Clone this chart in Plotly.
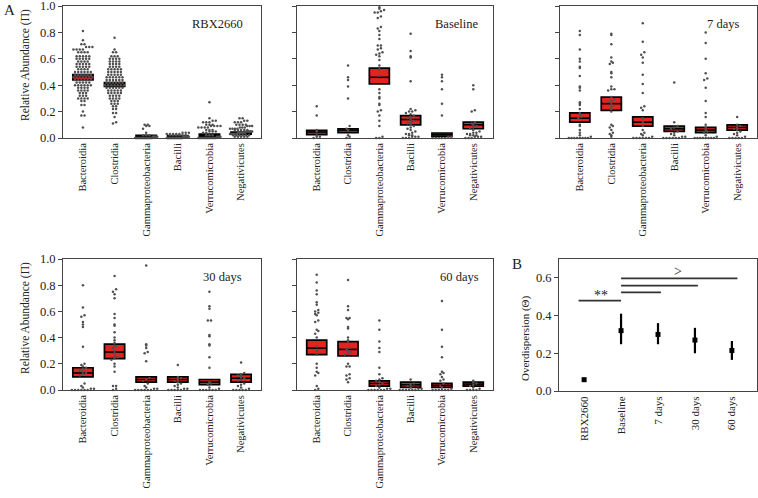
import plotly.graph_objects as go

FONT = "Liberation Serif"

categories = ["Bacteroidia", "Clostridia", "Gammaproteobacteria", "Bacilli", "Verrucomicrobia", "Negativicutes"]
panel_names = ["RBX2660", "Baseline", "7 days", "30 days", "60 days"]

# ---------- RBX2660 ----------
rbx_bacteroidia = [0.81, 0.74, 0.71, 0.71, 0.69, 0.69, 0.69, 0.67, 0.67, 0.67, 0.67, 0.65, 0.65, 0.65, 0.65,
                   0.62, 0.62, 0.62, 0.62, 0.62, 0.60, 0.60, 0.60, 0.60, 0.60, 0.58, 0.58, 0.58, 0.58,
                   0.56, 0.56, 0.56, 0.56, 0.56, 0.54, 0.54, 0.54, 0.54, 0.54, 0.52, 0.52, 0.52, 0.52,
                   0.50, 0.50, 0.50, 0.50, 0.50, 0.50, 0.48, 0.48, 0.48, 0.48, 0.48, 0.48,
                   0.46, 0.46, 0.46, 0.46, 0.46, 0.46, 0.46, 0.44, 0.44, 0.44, 0.44, 0.44, 0.44,
                   0.42, 0.42, 0.42, 0.42, 0.42, 0.40, 0.40, 0.40, 0.40, 0.40, 0.40, 0.38, 0.38, 0.38, 0.38,
                   0.36, 0.36, 0.36, 0.36, 0.34, 0.34, 0.34, 0.32, 0.32, 0.32, 0.30, 0.30, 0.30, 0.30,
                   0.28, 0.28, 0.25, 0.25, 0.20, 0.17, 0.17, 0.08]
rbx_clostridia = [0.76, 0.67, 0.65, 0.65, 0.62, 0.62, 0.62, 0.60, 0.60, 0.60, 0.60, 0.58, 0.58, 0.58, 0.58,
                  0.56, 0.56, 0.56, 0.56, 0.54, 0.54, 0.54, 0.54, 0.52, 0.52, 0.52, 0.52, 0.52,
                  0.50, 0.50, 0.50, 0.50, 0.50, 0.48, 0.48, 0.48, 0.48, 0.48, 0.46, 0.46, 0.46, 0.46, 0.46, 0.46,
                  0.44, 0.44, 0.44, 0.44, 0.44, 0.44, 0.42, 0.42, 0.42, 0.42, 0.42, 0.42,
                  0.40, 0.40, 0.40, 0.40, 0.40, 0.40, 0.40, 0.38, 0.38, 0.38, 0.38, 0.38, 0.38,
                  0.36, 0.36, 0.36, 0.36, 0.36, 0.34, 0.34, 0.34, 0.34, 0.34, 0.32, 0.32, 0.32, 0.32,
                  0.30, 0.30, 0.30, 0.30, 0.28, 0.28, 0.28, 0.26, 0.26, 0.26, 0.24, 0.24, 0.22, 0.22,
                  0.19, 0.19, 0.16, 0.12, 0.11]
rbx_gamma = [0.10, 0.10, 0.09, 0.09, 0.07, 0.04, 0.02, 0.02, 0.02, 0.01, 0.01, 0.01, 0.01, 0.01, 0.01,
             0.0, 0.0, 0.0, 0.0, 0.0, 0.0, 0.0, 0.0, 0.0, 0.0, 0.0, 0.0, 0.0, 0.0, 0.0, 0.0, 0.0, 0.0, 0.0, 0.0]
rbx_bacilli = [0.04, 0.04, 0.04, 0.03, 0.03, 0.03, 0.03, 0.03, 0.02, 0.02, 0.02, 0.02, 0.02, 0.02,
               0.01, 0.01, 0.01, 0.01, 0.01, 0.01, 0.01, 0.01,
               0.0, 0.0, 0.0, 0.0, 0.0, 0.0, 0.0, 0.0, 0.0, 0.0, 0.0, 0.0, 0.0, 0.0, 0.0, 0.0, 0.0, 0.0, 0.0, 0.0]
rbx_verruco = [0.27, 0.15, 0.13, 0.13, 0.12, 0.12, 0.12, 0.10, 0.10, 0.10, 0.09, 0.09, 0.09, 0.09,
               0.08, 0.08, 0.08, 0.08, 0.06, 0.06, 0.06, 0.05, 0.05, 0.05, 0.04, 0.04, 0.02, 0.02, 0.02,
               0.01, 0.01, 0.01, 0.01, 0.0, 0.0, 0.0, 0.0, 0.0, 0.0, 0.0, 0.0, 0.0, 0.0, 0.0, 0.0, 0.0, 0.0, 0.0, 0.0]
rbx_negativ = [0.15, 0.15, 0.13, 0.13, 0.12, 0.12, 0.12, 0.10, 0.10, 0.10, 0.10, 0.09, 0.09, 0.09,
               0.08, 0.08, 0.08, 0.07, 0.07, 0.07, 0.07, 0.06, 0.06, 0.06, 0.06, 0.06,
               0.05, 0.05, 0.05, 0.05, 0.05, 0.05, 0.05, 0.04, 0.04, 0.04, 0.04, 0.04, 0.04, 0.04, 0.04,
               0.03, 0.03, 0.03, 0.03, 0.03, 0.03, 0.03, 0.03, 0.02, 0.02, 0.02, 0.02, 0.02, 0.02,
               0.01, 0.01, 0.01, 0.01, 0.01]
rbx_box_low = [0.44, 0.39, 0.005, 0.006, 0.010, 0.030]
rbx_box_high = [0.48, 0.42, 0.020, 0.018, 0.030, 0.045]
rbx_box_mean = [0.46, 0.405, 0.012, 0.012, 0.020, 0.037]

# ---------- Baseline ----------
base_bacteroidia = [0.24, 0.17, 0.06, 0.05, 0.02, 0.01, 0.01, 0.0]
base_clostridia = [0.55, 0.46, 0.44, 0.39, 0.30, 0.09, 0.07, 0.06, 0.02, 0.01, 0.0]
base_gamma = [0.99, 0.98, 0.97, 0.96, 0.95, 0.95, 0.92, 0.91, 0.84, 0.83, 0.81, 0.78, 0.75, 0.70, 0.70,
              0.68, 0.67, 0.65, 0.64, 0.63, 0.62, 0.59, 0.55, 0.52, 0.47, 0.37, 0.34, 0.31, 0.30,
              0.26, 0.25, 0.21, 0.20, 0.17, 0.13, 0.09, 0.01, 0.0, 0.0]
base_bacilli = [0.79, 0.66, 0.62, 0.61, 0.43, 0.22, 0.21, 0.20, 0.20, 0.19, 0.18, 0.17, 0.16, 0.15,
                0.14, 0.13, 0.12, 0.11, 0.10, 0.09, 0.08, 0.07, 0.06, 0.05, 0.04, 0.03, 0.03,
                0.02, 0.02, 0.01, 0.01, 0.01, 0.0, 0.0, 0.0]
base_verruco = [0.48, 0.46, 0.43, 0.37, 0.26, 0.17, 0.01, 0.01, 0.0, 0.0, 0.0, 0.0, 0.0]
base_negativ = [0.40, 0.37, 0.21, 0.20, 0.12, 0.11, 0.10, 0.09, 0.08, 0.07, 0.06, 0.05, 0.04, 0.04,
                0.03, 0.03, 0.02, 0.02, 0.02, 0.01, 0.01, 0.01, 0.0, 0.0, 0.0]
base_box_low = [0.025, 0.040, 0.41, 0.10, 0.012, 0.07]
base_box_high = [0.058, 0.070, 0.53, 0.17, 0.038, 0.12]
base_box_mean = [0.045, 0.060, 0.46, 0.14, 0.025, 0.10]

# ---------- 7 days ----------
d7_bacteroidia = [0.81, 0.78, 0.67, 0.60, 0.58, 0.54, 0.53, 0.47, 0.39, 0.38, 0.36, 0.27, 0.26, 0.25,
                  0.22, 0.19, 0.18, 0.16, 0.15, 0.10, 0.09, 0.06, 0.04, 0.02, 0.01,
                  0.0, 0.0, 0.0, 0.0, 0.0, 0.0, 0.0, 0.0]
d7_clostridia = [0.79, 0.78, 0.71, 0.61, 0.58, 0.57, 0.56, 0.50, 0.49, 0.46, 0.39, 0.37, 0.37, 0.36,
                 0.31, 0.29, 0.28, 0.27, 0.26, 0.24, 0.22, 0.20, 0.10, 0.09, 0.08, 0.06, 0.04, 0.03, 0.02, 0.01]
d7_gamma = [0.87, 0.73, 0.65, 0.63, 0.61, 0.57, 0.48, 0.41, 0.34, 0.24, 0.23, 0.21, 0.15, 0.12, 0.09,
            0.06, 0.04, 0.03, 0.02, 0.01, 0.0, 0.0, 0.0, 0.0, 0.0, 0.0]
d7_bacilli = [0.42, 0.12, 0.09, 0.08, 0.07, 0.05, 0.04, 0.03, 0.02, 0.01, 0.01,
              0.0, 0.0, 0.0, 0.0, 0.0, 0.0]
d7_verruco = [0.80, 0.72, 0.60, 0.49, 0.45, 0.44, 0.38, 0.28, 0.19, 0.16, 0.10, 0.08, 0.06, 0.05,
              0.04, 0.02, 0.01, 0.0, 0.0, 0.0, 0.0, 0.0, 0.0, 0.0, 0.0]
d7_negativ = [0.16, 0.10, 0.09, 0.08, 0.07, 0.06, 0.05, 0.04, 0.03, 0.02, 0.01,
              0.0, 0.0, 0.0, 0.0, 0.0]
d7_box_low = [0.12, 0.21, 0.09, 0.05, 0.04, 0.06]
d7_box_high = [0.19, 0.31, 0.16, 0.09, 0.08, 0.10]
d7_box_mean = [0.15, 0.26, 0.12, 0.07, 0.06, 0.08]

# ---------- 30 days ----------
d30_bacteroidia = [0.80, 0.63, 0.57, 0.56, 0.52, 0.50, 0.48, 0.33, 0.20, 0.19, 0.18, 0.17, 0.16, 0.15,
                   0.14, 0.13, 0.12, 0.11, 0.05, 0.03, 0.02, 0.01, 0.01, 0.0, 0.0, 0.0, 0.0, 0.0, 0.0]
d30_clostridia = [0.87, 0.77, 0.75, 0.73, 0.70, 0.58, 0.55, 0.50, 0.49, 0.44, 0.40, 0.38, 0.36, 0.34,
                  0.33, 0.32, 0.30, 0.28, 0.26, 0.25, 0.24, 0.23, 0.20, 0.18, 0.14, 0.03, 0.03, 0.01, 0.0]
d30_gamma = [0.95, 0.35, 0.34, 0.32, 0.29, 0.28, 0.22, 0.09, 0.08, 0.07, 0.05, 0.03, 0.02, 0.01, 0.01,
             0.0, 0.0, 0.0, 0.0, 0.0, 0.0]
d30_bacilli = [0.19, 0.10, 0.09, 0.08, 0.07, 0.06, 0.05, 0.04, 0.03, 0.02, 0.01, 0.01,
               0.0, 0.0, 0.0, 0.0, 0.0]
d30_verruco = [0.75, 0.64, 0.62, 0.53, 0.53, 0.42, 0.41, 0.35, 0.34, 0.25, 0.17, 0.06, 0.05, 0.04,
               0.02, 0.01, 0.0, 0.0, 0.0, 0.0, 0.0, 0.0]
d30_negativ = [0.21, 0.13, 0.12, 0.11, 0.10, 0.09, 0.08, 0.07, 0.05, 0.04, 0.03, 0.02, 0.01,
               0.0, 0.0, 0.0, 0.0, 0.0]
d30_box_low = [0.10, 0.24, 0.06, 0.06, 0.04, 0.06]
d30_box_high = [0.17, 0.35, 0.10, 0.10, 0.08, 0.12]
d30_box_mean = [0.13, 0.29, 0.08, 0.08, 0.06, 0.09]

# ---------- 60 days ----------
d60_bacteroidia = [0.88, 0.82, 0.76, 0.73, 0.67, 0.65, 0.61, 0.60, 0.59, 0.58, 0.57, 0.53, 0.52, 0.46,
                   0.45, 0.43, 0.40, 0.33, 0.30, 0.27, 0.20, 0.17, 0.14, 0.13, 0.11, 0.03, 0.01, 0.0]
d60_clostridia = [0.84, 0.64, 0.61, 0.55, 0.55, 0.54, 0.48, 0.47, 0.40, 0.38, 0.37, 0.32, 0.31, 0.30,
                  0.29, 0.28, 0.27, 0.20, 0.18, 0.18, 0.12, 0.11, 0.09, 0.08, 0.06]
d60_gamma = [0.53, 0.46, 0.37, 0.32, 0.29, 0.17, 0.12, 0.09, 0.08, 0.07, 0.06, 0.05, 0.04, 0.03,
             0.02, 0.01, 0.01, 0.0, 0.0, 0.0, 0.0, 0.0, 0.0]
d60_bacilli = [0.08, 0.05, 0.04, 0.03, 0.02, 0.01, 0.01, 0.0, 0.0, 0.0, 0.0, 0.0, 0.0]
d60_verruco = [0.68, 0.46, 0.33, 0.25, 0.14, 0.13, 0.12, 0.10, 0.08, 0.07, 0.05, 0.03, 0.02, 0.01,
               0.0, 0.0, 0.0, 0.0, 0.0, 0.0]
d60_negativ = [0.07, 0.06, 0.05, 0.04, 0.03, 0.02, 0.01, 0.0, 0.0, 0.0, 0.0]
d60_box_low = [0.27, 0.26, 0.03, 0.02, 0.02, 0.03]
d60_box_high = [0.38, 0.37, 0.07, 0.06, 0.05, 0.06]
d60_box_mean = [0.32, 0.31, 0.05, 0.04, 0.035, 0.045]

# ---------- Panel B ----------
b_groups = ["RBX2660", "Baseline", "7 days", "30 days", "60 days"]
b_theta = [0.06, 0.32, 0.30, 0.27, 0.215]
b_upper = [0.066, 0.41, 0.36, 0.335, 0.265]
b_lower = [0.054, 0.248, 0.248, 0.20, 0.165]
sig_labels = ["**", ">"]

panels = [
    ([rbx_bacteroidia, rbx_clostridia, rbx_gamma, rbx_bacilli, rbx_verruco, rbx_negativ],
     rbx_box_low, rbx_box_high, rbx_box_mean),
    ([base_bacteroidia, base_clostridia, base_gamma, base_bacilli, base_verruco, base_negativ],
     base_box_low, base_box_high, base_box_mean),
    ([d7_bacteroidia, d7_clostridia, d7_gamma, d7_bacilli, d7_verruco, d7_negativ],
     d7_box_low, d7_box_high, d7_box_mean),
    ([d30_bacteroidia, d30_clostridia, d30_gamma, d30_bacilli, d30_verruco, d30_negativ],
     d30_box_low, d30_box_high, d30_box_mean),
    ([d60_bacteroidia, d60_clostridia, d60_gamma, d60_bacilli, d60_verruco, d60_negativ],
     d60_box_low, d60_box_high, d60_box_mean),
]

W, H = 758, 498


def px_x(a, b):
    return [a / W, b / W]


def px_y(top, bottom):
    return [1 - bottom / H, 1 - top / H]


domains = [
    (px_x(63, 261), px_y(6, 138)),
    (px_x(297, 493), px_y(6, 138)),
    (px_x(560, 757), px_y(6, 138)),
    (px_x(63, 261), px_y(259, 390)),
    (px_x(297, 493), px_y(259, 390)),
]
domainB = (px_x(559, 757), px_y(259, 391))


def swarm(vals, center, binsize=0.02, step=0.1, maxw=0.7):
    rows = {}
    for v in vals:
        rows.setdefault(int(round(v / binsize)), []).append(v)
    xs, ys = [], []
    for k in sorted(rows):
        vs = sorted(rows[k])
        n = len(vs)
        s = step if n <= 1 else min(step, maxw / (n - 1))
        for j, v in enumerate(vs):
            xs.append(center + (j - (n - 1) / 2) * s)
            ys.append(v)
    return xs, ys


fig = go.Figure()
RED = "#e2231f"
DOT = "#505050"
AXC = "#444444"
TXT = "#222222"

layout = dict(width=W, height=H, margin=dict(l=0, r=0, t=0, b=0, autoexpand=False),
              paper_bgcolor="white", plot_bgcolor="white", showlegend=False,
              font=dict(family=FONT, color=TXT), barmode="overlay")

for i, (pts, lo, hi, mn) in enumerate(panels):
    n = i + 1
    xa = "x" if n == 1 else f"x{n}"
    ya = "y" if n == 1 else f"y{n}"
    xs_all, ys_all = [], []
    for c, vals in enumerate(pts):
        xs, ys = swarm(vals, c)
        xs_all += xs
        ys_all += ys
    fig.add_trace(go.Bar(x=list(range(6)), y=[h - l for h, l in zip(hi, lo)], base=lo, width=0.64,
                         marker=dict(color=RED, line=dict(color="black", width=1.7)),
                         xaxis=xa, yaxis=ya, hoverinfo="skip"))
    mx, my = [], []
    for c, m in enumerate(mn):
        mx += [c - 0.32, c + 0.32, None]
        my += [m, m, None]
    fig.add_trace(go.Scatter(x=mx, y=my, mode="lines", line=dict(color="black", width=1.6),
                             xaxis=xa, yaxis=ya, hoverinfo="skip"))
    fig.add_trace(go.Scatter(x=xs_all, y=ys_all, mode="markers", cliponaxis=False,
                             marker=dict(color=DOT, size=2.5, line=dict(width=0)),
                             xaxis=xa, yaxis=ya))
    dx, dy = domains[i]
    key_x = "xaxis" if n == 1 else f"xaxis{n}"
    key_y = "yaxis" if n == 1 else f"yaxis{n}"
    layout[key_x] = dict(domain=dx, anchor=ya, range=[-0.63, 5.63], tickmode="array",
                         tickvals=list(range(6)), ticktext=categories, tickangle=-90,
                         tickfont=dict(size=10.5, family=FONT, color=TXT), ticks="",
                         showline=True, mirror=True, linecolor=AXC, linewidth=1,
                         showgrid=False, zeroline=False, fixedrange=True)
    layout[key_y] = dict(domain=dy, anchor=xa, range=[0, 1.0], tickmode="array",
                         tickvals=[0, 0.2, 0.4, 0.6, 0.8, 1.0],
                         ticktext=["0.0", "0.2", "0.4", "0.6", "0.8", "1.0"],
                         showticklabels=(n in (1, 4)), ticks="outside", ticklen=4, tickcolor=AXC,
                         tickfont=dict(size=12.5, family=FONT, color=TXT), ticklabeloverflow="allow",
                         showline=True, mirror=True, linecolor=AXC, linewidth=1,
                         showgrid=False, zeroline=False, fixedrange=True)

# Panel B
fig.add_trace(go.Scatter(
    x=list(range(5)), y=b_theta, mode="markers", xaxis="x6", yaxis="y6",
    marker=dict(color="black", size=5, symbol="square"),
    error_y=dict(type="data", symmetric=False,
                 array=[u - t for u, t in zip(b_upper, b_theta)],
                 arrayminus=[t - l for t, l in zip(b_theta, b_lower)],
                 thickness=2.2, width=0, color="black")))

sig_x0 = [-0.15, 1.0, 1.0, 1.0]
sig_x1 = [1.0, 2.08, 3.08, 4.15]
sig_y = [0.479, 0.523, 0.559, 0.597]
sx, sy = [], []
for a, b, yv in zip(sig_x0, sig_x1, sig_y):
    sx += [a, b, None]
    sy += [yv, yv, None]
fig.add_trace(go.Scatter(x=sx, y=sy, mode="lines", xaxis="x6", yaxis="y6",
                         line=dict(color="#333333", width=1.8), hoverinfo="skip"))

layout["xaxis6"] = dict(domain=domainB[0], anchor="y6", range=[-0.68, 4.68], tickmode="array",
                        tickvals=list(range(5)), ticktext=b_groups, tickangle=-90,
                        tickfont=dict(size=11, family=FONT, color=TXT), ticks="",
                        showline=True, mirror=True, linecolor=AXC, linewidth=1,
                        showgrid=False, zeroline=False, fixedrange=True)
layout["yaxis6"] = dict(domain=domainB[1], anchor="x6", range=[0, 0.7], tickmode="array",
                        tickvals=[0, 0.2, 0.4, 0.6], ticktext=["0.0", "0.2", "0.4", "0.6"],
                        ticks="outside", ticklen=4, tickcolor=AXC,
                        tickfont=dict(size=12.5, family=FONT, color=TXT),
                        showline=True, mirror=True, linecolor=AXC, linewidth=1,
                        showgrid=False, zeroline=False, fixedrange=True)

ann = []
for lab, xv, yv in zip(sig_labels, [0.45, 2.55], [0.505, 0.632]):
    ann.append(dict(text=lab, x=xv, y=yv, xref="x6", yref="y6", showarrow=False,
                    xanchor="center", yanchor="middle",
                    font=dict(size=14, family=FONT, color=TXT)))
title_pos = [(217, 24), (456, 24), (723, 24), (222, 277), (459, 277)]
for name, (x, y) in zip(panel_names, title_pos):
    ann.append(dict(text=name, x=x / W, y=1 - y / H, xref="paper", yref="paper",
                    showarrow=False, xanchor="center", yanchor="middle",
                    font=dict(size=12.5, family=FONT, color=TXT)))
for y_c in (65, 318):
    ann.append(dict(text="Relative Abundance (\u03a0)", x=25 / W, y=1 - y_c / H, xref="paper",
                    yref="paper", showarrow=False, textangle=-90, xanchor="center",
                    yanchor="middle", font=dict(size=11.5, family=FONT, color=TXT)))
ann.append(dict(text="Overdispersion (\u0398)", x=525 / W, y=1 - 338 / H, xref="paper", yref="paper",
                showarrow=False, textangle=-90, xanchor="center", yanchor="middle",
                font=dict(size=11, family=FONT, color=TXT)))
ann.append(dict(text="A", x=9 / W, y=1 - 10 / H, xref="paper", yref="paper", showarrow=False,
                xanchor="center", yanchor="middle", font=dict(size=15, family=FONT, color=TXT)))
ann.append(dict(text="B", x=517 / W, y=1 - 264 / H, xref="paper", yref="paper", showarrow=False,
                xanchor="center", yanchor="middle", font=dict(size=15, family=FONT, color=TXT)))
layout["annotations"] = ann

fig.update_layout(**layout)
fig.write_html("out.html", config={"displayModeBar": False},
               post_script="document.body.style.margin='0px';document.body.style.overflow='hidden';")
